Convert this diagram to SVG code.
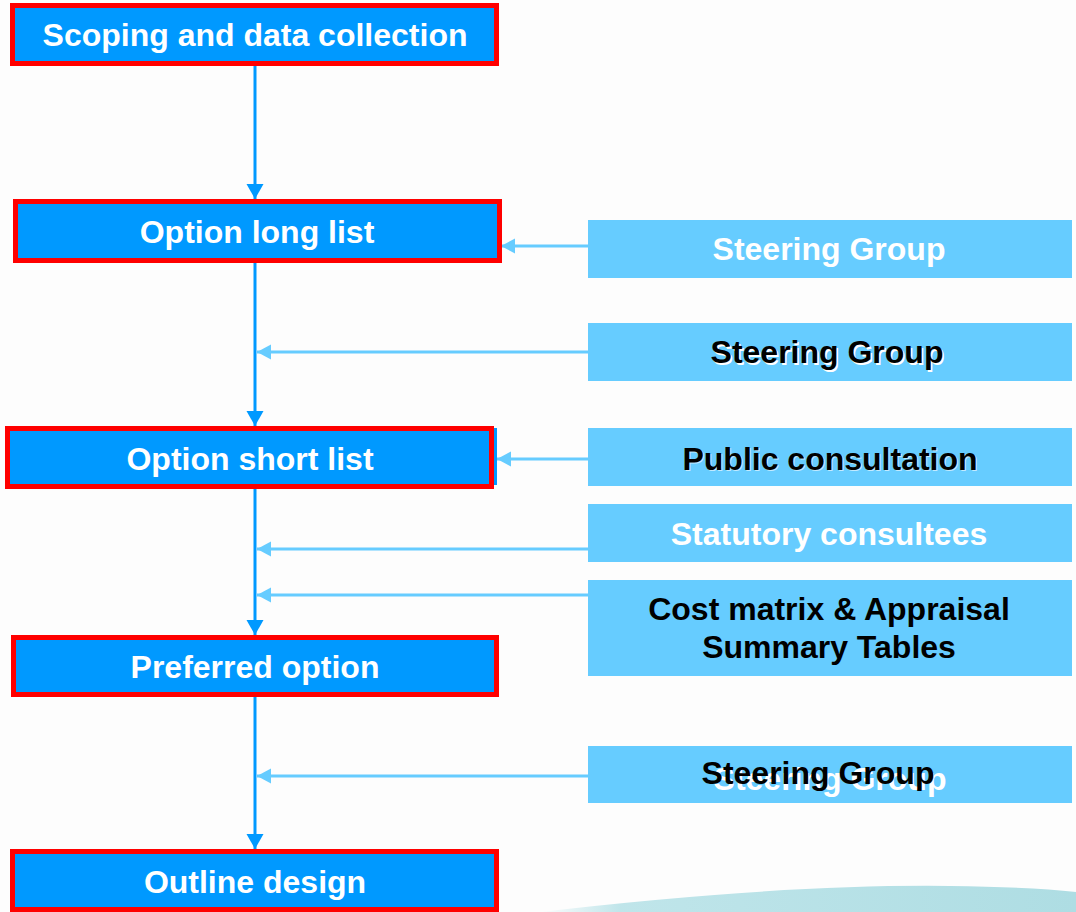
<svg xmlns="http://www.w3.org/2000/svg" width="1076" height="912" viewBox="0 0 1076 912">
<defs>
<style>
.main rect.f{fill:#0099FF;}
.main rect.b{fill:none;stroke:#FF0000;stroke-width:5;}
.bf{fill:#0099FF;stroke:#FF0000;stroke-width:5;}
.side{fill:#66CCFF;}
text{font-family:"Liberation Sans",Arial,sans-serif;font-weight:bold;font-size:32px;text-anchor:middle;}
.w{fill:#FFFFFF;}
.k{fill:#000000;}
.v{stroke:#0099FF;stroke-width:3;fill:none;}
.h{stroke:#66CCFF;stroke-width:3;fill:none;}
</style>
<marker id="av" markerUnits="userSpaceOnUse" markerWidth="16" markerHeight="18" refX="15" refY="8.5" orient="auto">
<path d="M0,0 L15,8.5 L0,17 z" fill="#0099FF"/>
</marker>
<marker id="ah" markerUnits="userSpaceOnUse" markerWidth="15" markerHeight="16" refX="14" refY="7.5" orient="auto">
<path d="M0,0 L14,7.5 L0,15 z" fill="#66CCFF"/>
</marker>
<linearGradient id="wave" x1="0" y1="0" x2="1" y2="0">
<stop offset="0" stop-color="#B0DFE5" stop-opacity="0"/>
<stop offset="0.15" stop-color="#B0DFE5" stop-opacity="0.8"/>
<stop offset="1" stop-color="#AEDDE3"/>
</linearGradient>
</defs>
<rect x="0" y="0" width="1076" height="912" fill="#FDFDFD"/>
<path d="M540 912 Q 780 884 950 886 Q 1030 887 1076 892 L1076 912 Z" fill="url(#wave)"/>

<g id="connectors">
<line class="v" x1="255" y1="66" x2="255" y2="199" marker-end="url(#av)"/>
<line class="v" x1="255" y1="263" x2="255" y2="426" marker-end="url(#av)"/>
<line class="v" x1="255" y1="489" x2="255" y2="635" marker-end="url(#av)"/>
<line class="v" x1="255" y1="697" x2="255" y2="849" marker-end="url(#av)"/>
<line class="h" x1="588" y1="246" x2="501" y2="246" marker-end="url(#ah)"/>
<line class="h" x1="588" y1="352" x2="257" y2="352" marker-end="url(#ah)"/>
<line class="h" x1="588" y1="459" x2="497" y2="459" marker-end="url(#ah)"/>
<line class="h" x1="588" y1="549" x2="257" y2="549" marker-end="url(#ah)"/>
<line class="h" x1="588" y1="595" x2="257" y2="595" marker-end="url(#ah)"/>
<line class="h" x1="588" y1="776" x2="257" y2="776" marker-end="url(#ah)"/>
</g>

<g id="scoping">
<rect class="bf" x="12.5" y="5.5" width="484" height="58"/>
<text class="w" x="255" y="46">Scoping and data collection</text>
</g>
<g id="long-list">
<rect class="bf" x="15.5" y="201.5" width="484" height="59"/>
<text class="w" x="257" y="243">Option long list</text>
</g>
<g id="short-list">
<rect x="8" y="428" width="489" height="57" fill="#0099FF"/>
<rect x="7.5" y="428.5" width="484" height="58" fill="none" stroke="#FF0000" stroke-width="5"/>
<text class="w" x="250" y="470">Option short list</text>
</g>
<g id="preferred">
<rect class="bf" x="13.5" y="637.5" width="483" height="57"/>
<text class="w" x="255" y="678">Preferred option</text>
</g>
<g id="outline">
<rect class="bf" x="12.5" y="851.5" width="484" height="58"/>
<text class="w" x="255" y="893">Outline design</text>
</g>

<g id="steering1">
<rect class="side" x="588" y="220" width="484" height="58"/>
<text class="w" x="829" y="260">Steering Group</text>
</g>
<g id="steering2">
<rect class="side" x="588" y="323" width="484" height="58"/>
<text class="w" x="828.5" y="364.5">Steering Group</text>
<text class="k" x="827" y="363">Steering Group</text>
</g>
<g id="public">
<rect class="side" x="588" y="428" width="484" height="58"/>
<text class="w" x="831" y="471" opacity="0.6">Public consultation</text>
<text class="k" x="830" y="470">Public consultation</text>
</g>
<g id="statutory">
<rect class="side" x="588" y="504" width="484" height="58"/>
<text class="w" x="829" y="545">Statutory consultees</text>
</g>
<g id="cost-matrix">
<rect class="side" x="588" y="580" width="484" height="96"/>
<text class="k" x="829" y="620">Cost matrix &amp; Appraisal</text>
<text class="k" x="829" y="658">Summary Tables</text>
</g>
<g id="steering3">
<rect class="side" x="588" y="746" width="484" height="57"/>
<text class="w" x="830" y="790">Steering Group</text>
<text class="k" x="818" y="784">Steering Group</text>
</g>
</svg>
